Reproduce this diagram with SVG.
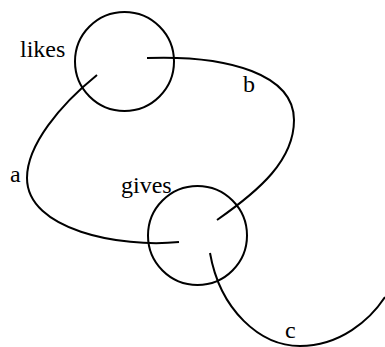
<svg xmlns="http://www.w3.org/2000/svg" width="385" height="347" viewBox="0 0 385 347">
<style>
.n{fill:none;stroke:#000;stroke-width:2}
.e{fill:none;stroke:#000;stroke-width:2}
</style>
<rect width="385" height="347" fill="#fff"/>
<g id="connectors">
<path class="e" d="M97,75 C60,105 27,145 27,178 C27,230 120,248 179,242"/>
<path class="e" d="M147,58 C230,55 294,75 294,120 C294,160 260,190 217,220"/>
<path class="e" d="M210,253 C220,310 260,346 300,346 C340,346 370,320 385,297"/>
<g font-family="Liberation Serif, Times New Roman, serif" font-size="24" fill="#000">
<text x="10" y="182">a</text>
<text x="243" y="92">b</text>
<text x="285" y="338">c</text>
</g>
</g>
<g id="likes" font-family="Liberation Serif, Times New Roman, serif" font-size="24">
<circle class="n" cx="124.5" cy="61.5" r="49.5"/>
<text x="20" y="57">likes</text>
</g>
<g id="gives" font-family="Liberation Serif, Times New Roman, serif" font-size="24">
<circle class="n" cx="197.5" cy="235.5" r="49.5"/>
<text x="121" y="193">gives</text>
</g>
</svg>
